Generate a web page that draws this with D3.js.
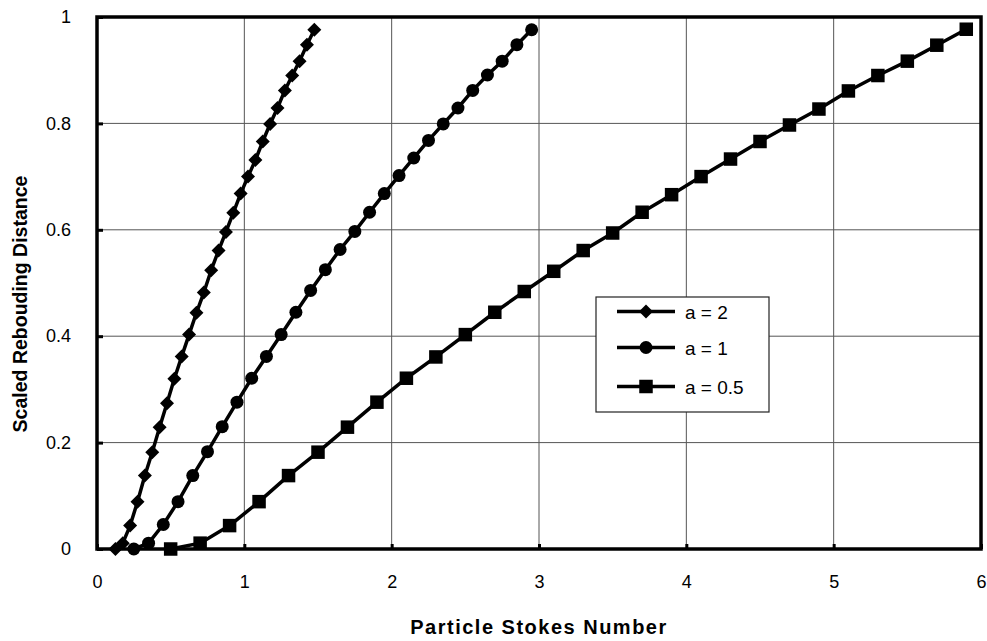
<!DOCTYPE html>
<html>
<head>
<meta charset="utf-8">
<script src="https://cdn.jsdelivr.net/npm/d3@7/dist/d3.min.js"></script>
<style>
  html, body { margin: 0; padding: 0; background: #fff; }
  svg { display: block; font-family: "Liberation Sans", Arial, sans-serif; }
</style>
</head>
<body>
<svg id="chart" width="987" height="641"></svg>
<script>
// ---- Data ----
const seriesNames = ["a = 2", "a = 1", "a = 0.5"];

const xA2 = [0.125,0.175,0.225,0.275,0.325,0.375,0.425,0.475,0.525,0.575,0.625,0.675,0.725,0.775,
             0.825,0.875,0.925,0.975,1.025,1.075,1.125,1.175,1.225,1.275,1.325,1.375,1.425,1.475];
const yA2 = [0,0.011,0.044,0.089,0.138,0.182,0.229,0.274,0.320,0.362,0.403,0.444,0.482,0.524,
             0.561,0.596,0.632,0.668,0.700,0.731,0.766,0.799,0.829,0.862,0.890,0.917,0.948,0.976];

const xA1 = [0.25,0.35,0.45,0.55,0.65,0.75,0.85,0.95,1.05,1.15,1.25,1.35,1.45,1.55,
             1.65,1.75,1.85,1.95,2.05,2.15,2.25,2.35,2.45,2.55,2.65,2.75,2.85,2.95];
const yA1 = [0,0.011,0.046,0.089,0.138,0.183,0.230,0.276,0.321,0.362,0.403,0.445,0.486,0.525,
             0.563,0.597,0.633,0.668,0.702,0.735,0.768,0.799,0.829,0.862,0.891,0.917,0.948,0.976];

const xA05 = [0.5,0.7,0.9,1.1,1.3,1.5,1.7,1.9,2.1,2.3,2.5,2.7,2.9,3.1,
              3.3,3.5,3.7,3.9,4.1,4.3,4.5,4.7,4.9,5.1,5.3,5.5,5.7,5.9];
const yA05 = [0,0.011,0.044,0.089,0.138,0.182,0.229,0.276,0.321,0.361,0.403,0.445,0.484,0.522,
              0.561,0.594,0.633,0.666,0.700,0.733,0.766,0.797,0.827,0.861,0.890,0.917,0.947,0.977];

const xTicks = [0,1,2,3,4,5,6];
const yTicks = [0,0.2,0.4,0.6,0.8,1];
const xTitle = "Particle Stokes Number";
const yTitle = "Scaled Rebouding Distance";

// ---- Layout ----
const svg = d3.select("#chart");
const L = 97, R = 981, T = 17, B = 549;

const x = d3.scaleLinear().domain([0, 6]).range([L, R]);
const y = d3.scaleLinear().domain([0, 1]).range([B, T]);

// gridlines
const grid = svg.append("g");
grid.selectAll("line.gx").data(xTicks.slice(1, -1)).enter().append("line")
  .attr("x1", d => x(d)).attr("x2", d => x(d)).attr("y1", T).attr("y2", B)
  .attr("stroke", "#555").attr("stroke-width", 1);
grid.selectAll("line.gy").data(yTicks.slice(1, -1)).enter().append("line")
  .attr("x1", L).attr("x2", R).attr("y1", d => y(d)).attr("y2", d => y(d))
  .attr("stroke", "#555").attr("stroke-width", 1);

// axes
const xAxis = d3.axisBottom(x).tickValues(xTicks).tickSizeInner(-5).tickSizeOuter(0)
  .tickPadding(26).tickFormat(d3.format("d"));
const yAxis = d3.axisLeft(y).tickValues(yTicks).tickSizeInner(-6).tickSizeOuter(0)
  .tickPadding(26).tickFormat(d => d === 0 || d === 1 ? d3.format("d")(d) : d3.format(".1f")(d));

const gx = svg.append("g").attr("transform", `translate(0,${B})`).call(xAxis);
const gy = svg.append("g").attr("transform", `translate(${L},0)`).call(yAxis);
[gx, gy].forEach(g => {
  g.select(".domain").remove();
  g.selectAll(".tick line").attr("stroke", "#000").attr("stroke-width", 3);
  g.selectAll(".tick text").attr("fill", "#000").style("font-size", "18px");
});

// frame (thick)
svg.append("rect").attr("x", L).attr("y", T).attr("width", R - L).attr("height", B - T)
  .attr("fill", "none").attr("stroke", "#000").attr("stroke-width", 3.5);

// series
const series = [
  { name: seriesNames[0], xs: xA2, ys: yA2, marker: "diamond" },
  { name: seriesNames[1], xs: xA1, ys: yA1, marker: "circle" },
  { name: seriesNames[2], xs: xA05, ys: yA05, marker: "square" }
];

function drawMarker(g, type, cx, cy) {
  if (type === "diamond") {
    const s = 7;
    g.append("path").attr("d", `M${cx},${cy - s}L${cx + s},${cy}L${cx},${cy + s}L${cx - s},${cy}Z`).attr("fill", "#000");
  } else if (type === "circle") {
    g.append("circle").attr("cx", cx).attr("cy", cy).attr("r", 6.5).attr("fill", "#000");
  } else {
    const s = 13.5;
    g.append("rect").attr("x", cx - s / 2).attr("y", cy - s / 2).attr("width", s).attr("height", s).attr("fill", "#000");
  }
}

const line = d3.line().x(d => x(d[0])).y(d => y(d[1]));
series.forEach(s => {
  const pts = s.xs.map((v, i) => [v, s.ys[i]]);
  const g = svg.append("g");
  g.append("path").datum(pts).attr("d", line).attr("fill", "none")
    .attr("stroke", "#000").attr("stroke-width", 3.5).attr("stroke-linejoin", "round");
  pts.forEach(p => drawMarker(g, s.marker, x(p[0]), y(p[1])));
});

// legend
const lg = svg.append("g");
lg.append("rect").attr("x", 596).attr("y", 297).attr("width", 173).attr("height", 115)
  .attr("fill", "#fff").attr("stroke", "#222").attr("stroke-width", 1.2);
const rowsY = [311.5, 347.5, 386.5];
series.forEach((s, i) => {
  const yy = rowsY[i];
  lg.append("line").attr("x1", 617).attr("x2", 675).attr("y1", yy).attr("y2", yy)
    .attr("stroke", "#000").attr("stroke-width", 3.5);
  drawMarker(lg, s.marker, 646, yy);
  lg.append("text").attr("x", 685).attr("y", yy + 7).text(s.name)
    .style("font-size", "19px").attr("fill", "#000");
});

// titles
svg.append("text").attr("x", (L + R) / 2).attr("y", 634).attr("text-anchor", "middle")
  .style("font-size", "20px").style("font-weight", "bold").style("letter-spacing", "1.5px")
  .text(xTitle);
svg.append("text").attr("transform", `translate(27,304) rotate(-90)`).attr("text-anchor", "middle")
  .style("font-size", "19.5px").style("font-weight", "bold").text(yTitle);
</script>
</body>
</html>
